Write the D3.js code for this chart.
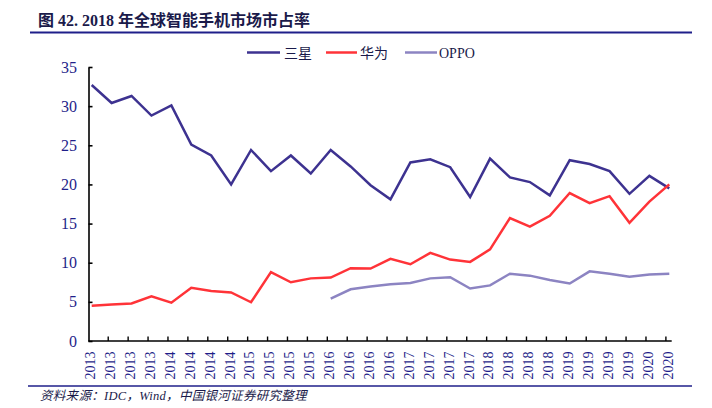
<!DOCTYPE html>
<html>
<head>
<meta charset="utf-8">
<script src="https://cdn.jsdelivr.net/npm/d3@7"></script>
<style>
  body { margin: 0; background: #fff; }
  svg text { font-family: "Liberation Serif", "Noto Sans CJK SC", serif; }
</style>
</head>
<body>
<svg id="chart" width="712" height="408"></svg>
<script>
// Quarterly labels (2013Q1 .. 2020Q2)
const quarters = [
  '2013', '2013', '2013', '2013', '2014', '2014', '2014', '2014',
  '2015', '2015', '2015', '2015', '2016', '2016', '2016', '2016',
  '2017', '2017', '2017', '2017', '2018', '2018', '2018', '2018',
  '2019', '2019', '2019', '2019', '2020', '2020'
];

const samsung = [32.7, 30.4, 31.3, 28.8, 30.1, 25.1, 23.7, 20.0, 24.4, 21.7,
  23.7, 21.4, 24.4, 22.3, 19.9, 18.1, 22.8, 23.2, 22.2, 18.4,
  23.3, 20.9, 20.3, 18.6, 23.1, 22.6, 21.7, 18.8, 21.1, 19.5];

const huawei = [4.5, 4.65, 4.8, 5.7, 4.9, 6.8, 6.4, 6.2, 4.95, 8.8,
  7.5, 8.0, 8.1, 9.3, 9.25, 10.5, 9.8, 11.25, 10.4, 10.1,
  11.7, 15.7, 14.6, 16.0, 18.9, 17.6, 18.5, 15.1, 17.8, 20.0];

// OPPO starts in 2016Q1
const oppo = [null, null, null, null, null, null, null, null, null, null,
  null, null, 5.4, 6.6, 6.95, 7.25, 7.4, 8.0, 8.15, 6.7,
  7.1, 8.6, 8.35, 7.8, 7.35, 8.9, 8.6, 8.2, 8.5, 8.6];

const yTicks = [0, 5, 10, 15, 20, 25, 30, 35];

const series = [
  { name: '三星', values: samsung, color: '#3d3290' },
  { name: '华为', values: huawei, color: '#ff3338' },
  { name: 'OPPO', values: oppo, color: '#8c84c2' }
];

const svg = d3.select('#chart');
const navy = '#1f1f8a';

const x = d3.scalePoint()
  .domain(d3.range(quarters.length))
  .range([91.7, 669.3]);

const y = d3.scaleLinear()
  .domain([0, 35])
  .range([341, 67]);

// Title
svg.append('text')
  .attr('x', 38).attr('y', 26)
  .attr('font-size', 16).attr('font-weight', 'bold')
  .attr('fill', '#1a1a4a')
  .text('图 42. 2018 年全球智能手机市场市占率');

svg.append('line')
  .attr('x1', 30).attr('x2', 692).attr('y1', 32.5).attr('y2', 32.5)
  .attr('stroke', navy).attr('stroke-width', 2);

// Legend
const legendPos = [
  { x1: 247, x2: 280, tx: 284 },
  { x1: 326, x2: 357, tx: 360 },
  { x1: 405, x2: 437, tx: 439 }
];
series.forEach((s, i) => {
  const p = legendPos[i];
  svg.append('line')
    .attr('x1', p.x1).attr('x2', p.x2).attr('y1', 52.5).attr('y2', 52.5)
    .attr('stroke', s.color).attr('stroke-width', 2.5);
  svg.append('text')
    .attr('x', p.tx).attr('y', 57.5)
    .attr('font-size', 14).attr('fill', '#1a1a4a')
    .text(s.name);
});

// Y axis
const yAxis = svg.append('g').attr('transform', 'translate(88.5,0)')
  .call(d3.axisRight(y).tickValues(yTicks).tickSize(4).tickSizeOuter(0).tickFormat(''));
yAxis.selectAll('line, path').attr('stroke', '#000').attr('stroke-width', 1.6);

svg.append('g').selectAll('text')
  .data(yTicks)
  .join('text')
  .attr('x', 77).attr('y', d => y(d))
  .attr('dy', '0.35em')
  .attr('text-anchor', 'end')
  .attr('font-size', 16).attr('fill', navy)
  .text(d => d);

// X axis line and ticks (ticks sit just left of each category)
svg.append('line')
  .attr('x1', 88.5).attr('x2', 671.7).attr('y1', y(0)).attr('y2', y(0))
  .attr('stroke', '#000').attr('stroke-width', 1.6);

svg.append('g').selectAll('line')
  .data(d3.range(1, quarters.length))
  .join('line')
  .attr('x1', d => x(d) - 3.4).attr('x2', d => x(d) - 3.4)
  .attr('y1', y(0)).attr('y2', y(0) - 4.5)
  .attr('stroke', '#000').attr('stroke-width', 1.4);

svg.append('g').selectAll('text')
  .data(quarters)
  .join('text')
  .attr('transform', (d, i) => `translate(${x(i) - 1.5},351.5) rotate(-90)`)
  .attr('dy', '0.35em')
  .attr('text-anchor', 'end')
  .attr('font-size', 14).attr('fill', navy)
  .text(d => d);

// Lines
const line = d3.line()
  .defined(d => d != null)
  .x((d, i) => x(i))
  .y(d => y(d));

series.forEach(s => {
  svg.append('path')
    .datum(s.values)
    .attr('fill', 'none')
    .attr('stroke', s.color)
    .attr('stroke-width', 2.5)
    .attr('stroke-linejoin', 'miter')
    .attr('d', line);
});

// Footer
svg.append('line')
  .attr('x1', 28).attr('x2', 692).attr('y1', 386).attr('y2', 386)
  .attr('stroke', navy).attr('stroke-width', 1.5);

svg.append('text')
  .attr('x', 40).attr('y', 400)
  .attr('font-size', 12.5).attr('font-style', 'italic')
  .attr('letter-spacing', 0.3)
  .attr('fill', '#1a1a4a')
  .text('资料来源：IDC，Wind，中国银河证券研究整理');
</script>
</body>
</html>
